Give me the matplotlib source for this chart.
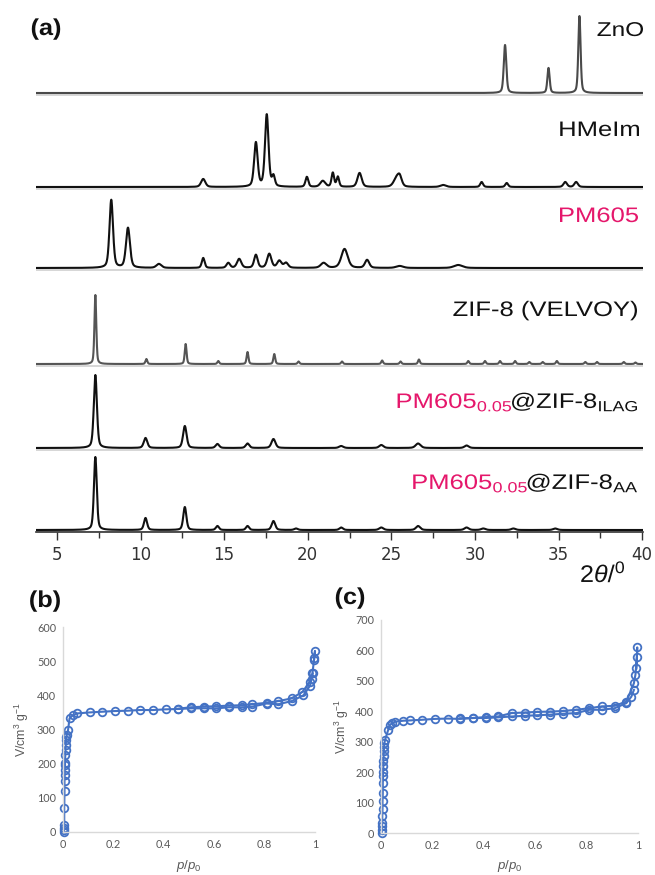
import numpy as np
import matplotlib
matplotlib.use("Agg")
import matplotlib.pyplot as plt
from matplotlib.ticker import MultipleLocator
from matplotlib.textpath import TextPath
from matplotlib.patches import PathPatch
from matplotlib.font_manager import FontProperties
from matplotlib.transforms import Affine2D

plt.rcParams['font.family'] = ['Liberation Sans', 'DejaVu Sans']
plt.rcParams['mathtext.fontset'] = 'custom'
plt.rcParams['mathtext.rm'] = 'Liberation Sans'
plt.rcParams['mathtext.it'] = 'Liberation Sans:italic'
plt.rcParams['mathtext.bf'] = 'Liberation Sans:bold'

# ---- (a) PXRD peak tables: position (2theta), height (px), fwhm ----
zno_pos = [31.8, 34.4, 36.25]
zno_int = [48, 25, 77]
zno_fw = [0.18, 0.16, 0.16]

hmeim_pos = [13.75, 16.9, 17.55, 17.95, 19.95, 20.9, 21.5, 21.8, 23.1, 25.3, 25.5, 28.1, 30.4, 31.9, 35.4, 36.05]
hmeim_int = [8, 44, 72, 10, 10, 6, 14, 10, 14, 8, 9, 2, 5, 4, 5, 5]
hmeim_fw = [0.3, 0.25, 0.25, 0.2, 0.2, 0.35, 0.18, 0.18, 0.3, 0.4, 0.3, 0.4, 0.2, 0.2, 0.25, 0.25]

pm605_pos = [8.25, 9.25, 11.1, 13.75, 15.25, 15.9, 16.9, 17.7, 18.3, 18.7, 20.95, 22.2, 23.55, 25.5, 29.0]
pm605_int = [68, 40, 4, 10, 5, 9, 13, 14, 7, 5, 5, 19, 8, 2, 3]
pm605_fw = [0.25, 0.28, 0.35, 0.2, 0.25, 0.3, 0.25, 0.3, 0.3, 0.3, 0.4, 0.45, 0.3, 0.5, 0.6]

zif_pos = [7.3, 10.35, 12.7, 14.65, 16.4, 18.0, 19.45, 22.05, 24.45, 25.55, 26.65, 29.6, 30.6, 31.5, 32.4, 33.25, 34.05, 34.9, 36.6, 37.3, 38.9, 39.6]
zif_int = [69, 5, 20, 3, 12, 10, 2.5, 2.5, 3.5, 2.5, 4.5, 3, 3, 3, 3, 2, 2, 3, 2, 2, 2, 1.5]
zif_fw = [0.13] * 22

ilag_pos = [7.3, 10.3, 12.65, 14.6, 16.4, 17.95, 22.0, 24.4, 26.6, 29.5]
ilag_int = [73, 10, 22, 4, 4.5, 9, 2, 3, 4.5, 2.5]
ilag_fw = [0.22, 0.25, 0.25, 0.25, 0.25, 0.28, 0.3, 0.3, 0.35, 0.3]

aa_pos = [7.3, 10.3, 12.65, 14.6, 16.4, 17.95, 19.3, 22.0, 24.4, 26.6, 29.5, 30.5, 32.3, 34.8]
aa_int = [73, 12, 23, 4, 4, 9, 1.5, 2.5, 2.5, 4, 2.5, 1.5, 1.5, 1.5]
aa_fw = [0.2, 0.22, 0.22, 0.22, 0.22, 0.25, 0.25, 0.25, 0.3, 0.3, 0.3, 0.3, 0.3, 0.3]

# ---- (b) / (c) N2 isotherms ----
b_ads_p = [0.003, 0.004, 0.004, 0.005, 0.005, 0.006, 0.006, 0.007, 0.007, 0.008, 0.008, 0.009, 0.010, 0.011,
           0.012, 0.013, 0.015, 0.020, 0.026, 0.040, 0.055, 0.106, 0.155, 0.205, 0.256, 0.305, 0.357, 0.407,
           0.457, 0.507, 0.559, 0.609, 0.658, 0.709, 0.751, 0.808, 0.854, 0.907, 0.954, 0.980, 0.987, 0.991]
b_ads_v = [0, 5, 12, 20, 70, 119, 148, 167, 182, 196, 201, 226, 240, 255,
           269, 279, 284, 298, 333, 342, 347, 350, 352, 354, 355, 357, 357, 359,
           360, 362, 362, 362, 365, 365, 367, 376, 374, 383, 400, 428, 449, 464]
b_des_p = [0.996, 1.0, 0.997, 0.99, 0.98, 0.95, 0.907, 0.854, 0.808, 0.751, 0.709, 0.658, 0.609, 0.559, 0.507, 0.457]
b_des_v = [503, 530, 510, 465, 440, 410, 391, 383, 378, 374, 371, 370, 368, 367, 365, 361]

c_ads_p = [0.003, 0.004, 0.004, 0.005, 0.005, 0.006, 0.006, 0.007, 0.007, 0.008, 0.008, 0.009, 0.009, 0.010,
           0.011, 0.012, 0.013, 0.016, 0.028, 0.035, 0.043, 0.055, 0.087, 0.113, 0.158, 0.210, 0.259, 0.307,
           0.359, 0.408, 0.456, 0.508, 0.560, 0.607, 0.659, 0.709, 0.760, 0.810, 0.858, 0.909, 0.955, 0.974, 0.984]
c_ads_v = [0, 11, 22, 33, 55, 79, 104, 131, 164, 186, 202, 219, 235, 252,
           268, 284, 295, 306, 339, 355, 361, 366, 369, 370, 372, 375, 376, 375,
           378, 378, 380, 383, 385, 387, 389, 392, 394, 405, 405, 410, 427, 448, 470]
c_des_p = [0.994, 0.997, 0.996, 0.990, 0.984, 0.955, 0.909, 0.858, 0.810, 0.760, 0.709, 0.659, 0.607, 0.560, 0.508, 0.456, 0.408, 0.359, 0.307]
c_des_v = [541, 610, 580, 520, 492, 432, 418, 416, 410, 405, 401, 399, 398, 396, 394, 383, 381, 378, 377]


def profile(x, pos, ints, fws):
    y = np.zeros_like(x)
    for c, h, w in zip(pos, ints, fws):
        g = np.exp(-4 * np.log(2) * ((x - c) / w) ** 2)
        l = 1.0 / (1 + ((x - c) / (w / 2)) ** 2)
        y += h * (0.6 * g + 0.4 * l)
    return y


W, H = 655, 875
fp = FontProperties(family='Liberation Sans')
fpb = FontProperties(family='Liberation Sans', weight='bold')


def wide_text(fig, px, py, parts, size, sx=1.22, prop=fp, align='right'):
    # text drawn as paths, slightly stretched sideways like the original figure
    paths = [(TextPath((0, 0), t, size=size, prop=prop), c) for t, c in parts]
    if align == 'right':
        x = px
        for tp, col in reversed(paths):
            e = tp.get_extents()
            org = x - e.x1 * sx
            tr = Affine2D().scale(sx, 1).translate(org, H - py)
            fig.add_artist(PathPatch(tp, transform=tr, facecolor=col, edgecolor='none'))
            x = org + e.x0 * sx - 1
    else:
        tp, col = paths[0]
        e = tp.get_extents()
        org = px - (e.x0 + e.x1) / 2 * sx
        tr = Affine2D().scale(sx, 1).translate(org, H - py)
        fig.add_artist(PathPatch(tp, transform=tr, facecolor=col, edgecolor='none'))


fig = plt.figure(figsize=(W / 100, H / 100), dpi=100)

# panel (a) in pixel-like units: axis bottom at 532 px, top at 5 px
ax = fig.add_axes([36 / W, 1 - 532 / H, (643 - 36) / W, (532 - 5) / H])
ax.set_xlim(3.75, 40.05)
ax.set_ylim(0, 527)

xx = np.linspace(3.75, 40.05, 5000)
traces = [
    (zno_pos, zno_int, zno_fw, '#4a4a4a'),
    (hmeim_pos, hmeim_int, hmeim_fw, '#111111'),
    (pm605_pos, pm605_int, pm605_fw, '#111111'),
    (zif_pos, zif_int, zif_fw, '#555555'),
    (ilag_pos, ilag_int, ilag_fw, '#111111'),
    (aa_pos, aa_int, aa_fw, '#111111'),
]
baselines = [93, 187, 268, 364, 448, 530]
for (p, i, f, col), b in zip(traces, baselines):
    off = 532 - b
    ax.axhline(off - 1.5, color='#d0d0d0', lw=1.2, zorder=1)
    ax.plot(xx, off + profile(xx, p, i, f), color=col, lw=1.5, zorder=2)

for s in ['top', 'right', 'left']:
    ax.spines[s].set_visible(False)
ax.spines['bottom'].set_color('#333333')
ax.spines['bottom'].set_linewidth(1.2)
ax.set_yticks([])
ax.set_xticks([5, 10, 15, 20, 25, 30, 35, 40])
ax.xaxis.set_minor_locator(MultipleLocator(2.5))
ax.tick_params(axis='x', which='major', length=6, width=1, labelsize=12, pad=4, colors='#333333')
ax.tick_params(axis='x', which='minor', length=4, width=1, colors='#333333')
for lab in ax.get_xticklabels():
    lab.set_family(['DejaVu Sans'])

pink = '#E5176B'
k = '#111111'
wide_text(fig, 46, 35, [('(a)', k)], 23, sx=1.1, prop=fpb, align='center')
wide_text(fig, 45, 607, [('(b)', k)], 23, sx=1.1, prop=fpb, align='center')
wide_text(fig, 350, 604, [('(c)', k)], 23, sx=1.1, prop=fpb, align='center')
wide_text(fig, 624, 582, [(r'2$\theta$/$^{\mathrm{0}}$', k)], 24, sx=1.05)

wide_text(fig, 643, 36, [('ZnO', k)], 20)
wide_text(fig, 639, 136, [('HMeIm', k)], 21)
wide_text(fig, 638, 222, [('PM605', pink)], 21)
wide_text(fig, 637, 316, [('ZIF-8 (VELVOY)', k)], 21)
wide_text(fig, 637, 408, [(r'PM605$_{0.05}$', pink), (r'@ZIF-8$_{\mathrm{ILAG}}$', k)], 21)
wide_text(fig, 637, 489, [(r'PM605$_{0.05}$', pink), (r'@ZIF-8$_{\mathrm{AA}}$', k)], 21)

# panels (b) and (c)
blue = '#4472C4'
grey = '#595959'
iso = [
    ([63, 315, 627, 832], 600, b_ads_p, b_ads_v, b_des_p, b_des_v, 22),
    ([381, 638, 620, 833], 700, c_ads_p, c_ads_v, c_des_p, c_des_v, 342),
]
for (x0, x1, y1, y0), ymax, ap, av, dp, dv, ylx in iso:
    a = fig.add_axes([x0 / W, 1 - y0 / H, (x1 - x0) / W, (y0 - y1) / H])
    for pp, vv in [(ap, av), (dp, dv)]:
        a.plot(pp, vv, color=blue, lw=1.5, marker='o', ms=5.5, mfc='none', mec=blue, mew=1.3,
               clip_on=False)
    a.set_xlim(0, 1)
    a.set_ylim(0, ymax)
    a.set_yticks(np.arange(0, ymax + 1, 100))
    a.set_xticks([0, 0.2, 0.4, 0.6, 0.8, 1])
    a.set_xticklabels(['0', '0.2', '0.4', '0.6', '0.8', '1'])
    for s in ['top', 'right']:
        a.spines[s].set_visible(False)
    for s in ['left', 'bottom']:
        a.spines[s].set_color('#d9d9d9')
        a.spines[s].set_linewidth(1)
    a.tick_params(length=0, labelsize=7.8, colors=grey, pad=5)
    for lab in a.get_xticklabels() + a.get_yticklabels():
        lab.set_family(['Lato', 'DejaVu Sans'])
    fig.text(ylx / W, 1 - (y0 + y1) / 2 / H, r'V/cm$^{3}$ g$^{-1}$', rotation=90, color=grey,
             fontsize=8.8, ha='center', va='center')
    fig.text((x0 + x1) / 2 / W, 1 - 866 / H, r'$p$/$p_0$', color=grey, fontsize=9.5, ha='center', va='center')

fig.savefig('out.png', dpi=100)
